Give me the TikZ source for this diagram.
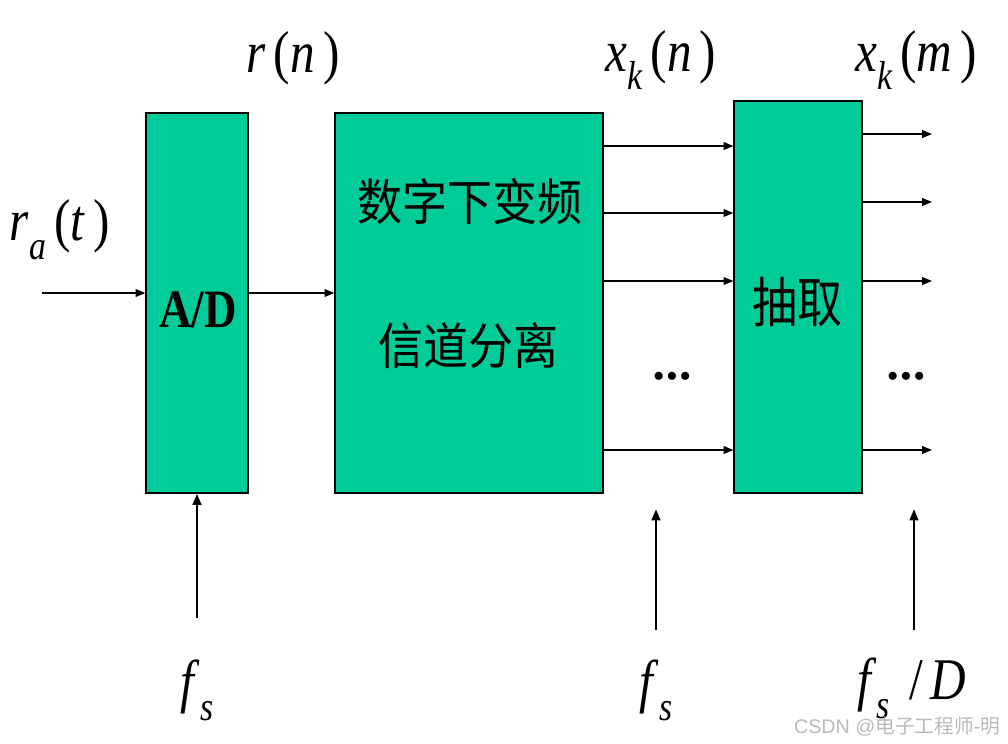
\documentclass[tikz,border=0pt]{standalone}
\usepackage{amsmath}
\usepackage{fontspec}
\setmainfont{Liberation Serif}
\newfontfamily\cjk{Noto Sans CJK SC}
\newfontfamily\wmfont{Liberation Sans}
\usetikzlibrary{arrows.meta}

\definecolor{boxgreen}{RGB}{0,204,153}
\newcommand{\vi}[1]{\textit{#1}}
\newcommand{\lp}{\textup{(}}
\newcommand{\rp}{\textup{)}}
\newcommand{\sub}[1]{\raisebox{-0.32em}{\fontsize{24}{24}\selectfont\itshape #1}}
\newcommand{\tall}[1]{\scalebox{1}[1.2]{#1}}

\begin{document}
\begin{tikzpicture}[x=0.025cm, y=-0.025cm,
    blk/.style={draw=black, fill=boxgreen, line width=0.8pt, inner sep=0pt},
    sig/.style={-{Triangle[length=7pt, width=5.5pt]}, line width=0.9pt},
    clk/.style={-{Triangle[length=8pt, width=6pt]}, line width=1.9pt},
    lbl/.style={font=\fontsize{35}{38}\selectfont},
    dots/.style={font=\fontsize{24}{26}\selectfont}]
            \useasboundingbox (0, 0) rectangle (1008, 744);

            \node[blk, minimum width = 2.55cm, minimum height = 9.5cm] (ad) at (197, 303) {};
            \node[blk, minimum width = 6.7cm, minimum height = 9.5cm] (ddc) at (469, 303) {};
            \node[blk, minimum width = 3.2cm, minimum height = 9.8cm] (dec) at (798, 297) {};

            \node[font = \fontsize{32}{36}\selectfont\bfseries] (ad_t) at (198, 310) {\tall{A/D}};
            \node[font = \fontsize{32}{36}\selectfont\cjk] (dec_t) at (797, 302) {\tall{抽取}};
            \node[font = \fontsize{32}{36}\selectfont\cjk] (ddc_a) at (470, 202) {\scalebox{1}[1.1]{数字下变频}};
            \node[font = \fontsize{32}{36}\selectfont\cjk] (ddc_b) at (468, 346) {\scalebox{1}[1.1]{信道分离}};

            \coordinate (in) at (42, 293);
            \draw[sig](in) -- (ad.west |- in);
            \draw[sig](ad.east |- in) -- (ddc.west |- in);

            \foreach \y in {146, 213, 281, 450} {
                \draw[sig](ddc.east |- 0, \y) -- (dec.west |- 0, \y);
            }
            \foreach \y [count = \i] in {134, 202, 281, 450} {
                \coordinate (out\i) at (932, \y);
                \draw[sig](dec.east |- out\i) -- (out\i);
            }

            \node[dots] (dots_a) at (672, 380) {\textbullet\hspace{1pt}\textbullet\hspace{1pt}\textbullet};
            \node[dots] (dots_b) at (906, 380) {\textbullet\hspace{1pt}\textbullet\hspace{1pt}\textbullet};

            \node[lbl] (ra) at (60, 230) {\tall{\vi{r}\sub{a}\,\lp\vi{t}\,\rp}};
            \node[lbl] (rn) at (293, 58) {\tall{\vi{r}\,\lp\vi{n}\,\rp}};
            \node[lbl] (xn) at (661, 60) {\tall{\vi{x}\sub{k}\,\lp\vi{n}\,\rp}};
            \node[lbl] (xm) at (916, 60) {\tall{\vi{x}\sub{k}\,\lp\vi{m}\,\rp}};

            \node[lbl] (fs_a) at (197, 690) {\tall{\vi{f}\sub{s}}};
            \node[lbl] (fs_b) at (656, 690) {\tall{\vi{f}\sub{s}}};
            \node[lbl] (fs_c) at (912, 688) {\tall{\vi{f}\sub{s}\hspace{0.4em}/\hspace{0.15em}\vi{D}}};

            \coordinate (clk_a) at (197, 618);
            \coordinate (clk_b) at (656, 630);
            \coordinate (clk_c) at (914, 630);
            \draw[clk](clk_a) -- (ad.south);
            \draw[clk](clk_b) -- (656, 509);
            \draw[clk](clk_c) -- (914, 509);

            \node[text = gray!55, font = \fontsize{14}{16}\selectfont\wmfont, anchor = east] (wm) at (1005, 727) {CSDN @{\cjk 电子工程师}-{\cjk 明}};
\end{tikzpicture}
\end{document}
